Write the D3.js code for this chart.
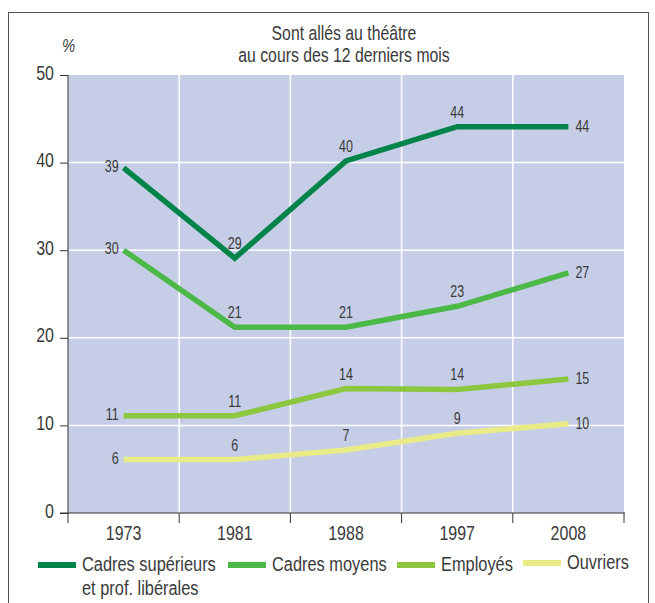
<!DOCTYPE html>
<html>
<head>
<meta charset="utf-8">
<script src="https://cdn.jsdelivr.net/npm/d3@7"></script>
<style>
  body { margin: 0; background: #fff; }
  svg text { font-family: "Liberation Sans", Arial, sans-serif; fill: #3a3a3a; }
</style>
</head>
<body>
<div id="chart"></div>
<script>
// Sorties au théâtre par catégorie sociale

var width = 655,
	height = 603,
	squeeze = 0.78; // no condensed font installed, so narrow the glyphs by hand

var years = ["1973", "1981", "1988", "1997", "2008"];
var y_ticks = [0, 10, 20, 30, 40, 50];

// plotted positions (slightly off the printed labels, as in the original)
var cadres_sup = [39.4, 29.1, 40.2, 44.1, 44.1];
var cadres_moy = [30.0, 21.2, 21.2, 23.6, 27.4];
var employes = [11.1, 11.1, 14.2, 14.1, 15.3];
var ouvriers = [6.1, 6.1, 7.2, 9.1, 10.2];

// printed value labels
var lab_sup = [39, 29, 40, 44, 44];
var lab_moy = [30, 21, 21, 23, 27];
var lab_emp = [11, 11, 14, 14, 15];
var lab_ouv = [6, 6, 7, 9, 10];

var title_lines = ["Sont allés au théâtre", "au cours des 12 derniers mois"];
var series_names = ["Cadres supérieurs|et prof. libérales", "Cadres moyens", "Employés", "Ouvriers"];
var series_colors = ["#00844a", "#4cb848", "#8dc63f", "#e8eb88"];

var series = [
	{ name: series_names[0], values: cadres_sup, labels: lab_sup, color: series_colors[0] },
	{ name: series_names[1], values: cadres_moy, labels: lab_moy, color: series_colors[1] },
	{ name: series_names[2], values: employes, labels: lab_emp, color: series_colors[2] },
	{ name: series_names[3], values: ouvriers, labels: lab_ouv, color: series_colors[3] }
];

var plot = { left: 68, right: 624, top: 75, bottom: 513 };

function narrow(x, y, s) {
	return "translate(" + x + "," + y + ") scale(" + (s || squeeze) + ",1)";
}

var svg = d3.select("#chart")
	.append("svg")
	.attr("width", width)
	.attr("height", height);

// outer frame
svg.append("rect")
	.attr("x", 8.5)
	.attr("y", 12.5)
	.attr("width", 640)
	.attr("height", 620)
	.attr("fill", "none")
	.attr("stroke", "#555")
	.attr("stroke-width", 1);

var x = d3.scaleBand()
	.domain(years)
	.range([plot.left, plot.right]);

var y = d3.scaleLinear()
	.domain([0, 50])
	.range([plot.bottom, plot.top]);

// background
svg.append("rect")
	.attr("x", plot.left)
	.attr("y", plot.top)
	.attr("width", plot.right - plot.left)
	.attr("height", plot.bottom - plot.top)
	.attr("fill", "#c6cee7");

// grid
svg.append("g")
	.selectAll("line")
	.data(y_ticks.slice(1, -1))
	.enter().append("line")
	.attr("x1", plot.left)
	.attr("x2", plot.right)
	.attr("y1", function(d) { return y(d); })
	.attr("y2", function(d) { return y(d); })
	.attr("stroke", "#fff")
	.attr("stroke-width", 1.5);

svg.append("g")
	.selectAll("line")
	.data(years.slice(1))
	.enter().append("line")
	.attr("x1", function(d) { return x(d); })
	.attr("x2", function(d) { return x(d); })
	.attr("y1", plot.top)
	.attr("y2", plot.bottom)
	.attr("stroke", "#fff")
	.attr("stroke-width", 1.5);

// y axis
var y_axis = svg.append("g")
	.attr("transform", "translate(" + plot.left + ",0)")
	.call(d3.axisLeft(y).tickValues(y_ticks).tickSize(8).tickPadding(4));
y_axis.select(".domain").attr("d", "M0," + plot.top + "V" + plot.bottom).attr("stroke", "#333");
y_axis.selectAll(".tick line").attr("stroke", "#333");
y_axis.selectAll("text")
	.attr("font-size", 20.5)
	.attr("x", -14 / squeeze)
	.attr("dy", "0.2em")
	.attr("transform", "scale(" + squeeze + ",1)");

// x axis: ticks at band edges, labels in band centers
var x_axis = svg.append("g")
	.attr("transform", "translate(0," + plot.bottom + ")");
x_axis.append("line")
	.attr("x1", plot.left - 8)
	.attr("x2", plot.right + 1)
	.attr("stroke", "#333");
x_axis.selectAll(".edge")
	.data(years.concat(["end"]))
	.enter().append("line")
	.attr("class", "edge")
	.attr("x1", function(d, i) { return i < years.length ? x(d) : plot.right; })
	.attr("x2", function(d, i) { return i < years.length ? x(d) : plot.right; })
	.attr("y1", 0)
	.attr("y2", 10)
	.attr("stroke", "#333");
x_axis.selectAll("text")
	.data(years)
	.enter().append("text")
	.attr("transform", function(d) { return narrow(x(d) + x.bandwidth() / 2, 27); })
	.attr("text-anchor", "middle")
	.attr("font-size", 20.5)
	.text(function(d) { return d; });

// lines
var line = d3.line()
	.x(function(d, i) { return x(years[i]) + x.bandwidth() / 2; })
	.y(function(d) { return y(d); });

svg.append("g")
	.selectAll("path")
	.data(series.slice().reverse())
	.enter().append("path")
	.attr("d", function(d) { return line(d.values); })
	.attr("fill", "none")
	.attr("stroke", function(d) { return d.color; })
	.attr("stroke-width", 5.5);

// value labels
series.forEach(function(s) {
	svg.append("g")
		.selectAll("text")
		.data(s.values)
		.enter().append("text")
		.attr("transform", function(d, i) {
			var cx = x(years[i]) + x.bandwidth() / 2;
			if (i == 0) return narrow(cx - 5, y(d) + 4);
			if (i == years.length - 1) return narrow(cx + 7, y(d) + 5);
			return narrow(cx, y(d) - 9);
		})
		.attr("text-anchor", function(d, i) {
			if (i == 0) return "end";
			if (i == years.length - 1) return "start";
			return "middle";
		})
		.attr("font-size", 16)
		.text(function(d, i) { return s.labels[i]; });
});

// title (two separate lines) and unit
svg.append("g")
	.selectAll("text")
	.data(title_lines)
	.enter().append("text")
	.attr("transform", function(d, i) { return narrow(344, 40 + i * 22, 0.81); })
	.attr("text-anchor", "middle")
	.attr("font-size", 19.5)
	.text(function(d) { return d; });

svg.append("text")
	.attr("transform", narrow(62, 52))
	.attr("font-size", 19)
	.attr("font-style", "italic")
	.text("%");

// legend
var legend_x = [38, 228, 397, 523];
var legend = svg.append("g")
	.selectAll("g")
	.data(series)
	.enter().append("g")
	.attr("transform", function(d, i) {
		return "translate(" + legend_x[i] + "," + (i == 3 ? 563 : 565) + ")";
	});

legend.append("line")
	.attr("x1", 0)
	.attr("x2", 38)
	.attr("stroke", function(d) { return d.color; })
	.attr("stroke-width", 6);

legend.append("text")
	.attr("transform", narrow(44, 6))
	.attr("font-size", 21)
	.each(function(d) {
		var parts = d.name.split("|");
		var t = d3.select(this);
		parts.forEach(function(p, k) {
			t.append("tspan")
				.attr("x", 0)
				.attr("dy", k == 0 ? 0 : 24)
				.text(p);
		});
	});
</script>
</body>
</html>
